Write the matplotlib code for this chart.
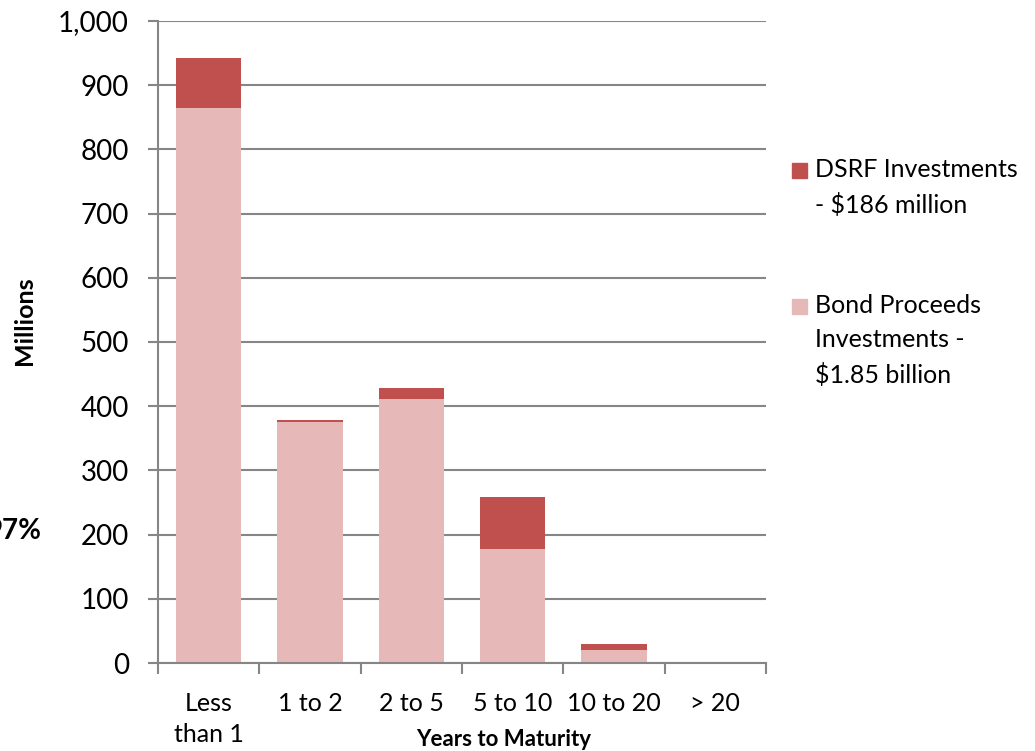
import numpy as np
import matplotlib.pyplot as plt
from matplotlib.patches import Rectangle
from matplotlib.ticker import FuncFormatter

# Investments by years to maturity, in millions
categories = ["Less\nthan 1", "1 to 2", "2 to 5", "5 to 10", "10 to 20", "> 20"]
bond_proceeds = [865, 376, 411, 178, 21, 0]
dsrf = [78, 3, 17, 80, 8, 0]

dsrf_label = "DSRF Investments\n- \\$186 million"
bond_label = "Bond Proceeds\nInvestments -\n\\$1.85 billion"

dsrf_color = "#C0504D"
bond_color = "#E6B9B8"
grid_color = "#868686"

plt.rcParams["font.family"] = ["Lato", "DejaVu Sans"]

fig = plt.figure(figsize=(10.35, 7.51), dpi=100)
ax = fig.add_axes([158 / 1035, 88 / 751, 608 / 1035, 642 / 751])

x = np.arange(len(categories))
width = 0.645

# Stacked bars
ax.bar(x, bond_proceeds, width, color=bond_color, zorder=2)
ax.bar(x, dsrf, width, bottom=bond_proceeds, color=dsrf_color, zorder=2)

# Axes styling
ax.set_xlim(-0.5, len(categories) - 0.5)
ax.set_ylim(0, 1000)
ax.set_yticks(np.arange(0, 1001, 100))
ax.yaxis.set_major_formatter(FuncFormatter(lambda v, p: f"{int(v):,}"))
ax.grid(axis="y", color=grid_color, linewidth=1.5, zorder=0)

ax.set_xticks(x)
ax.set_xticklabels(categories, fontsize=18, linespacing=1.4)
ax.set_xticks(np.arange(-0.5, len(categories)), minor=True)
ax.tick_params(axis="x", which="major", length=0, pad=21)
ax.tick_params(axis="x", which="minor", length=8, width=1.5, color=grid_color)
ax.tick_params(axis="y", length=7, width=1.5, color=grid_color, labelsize=20, pad=14)

for side in ["top", "right"]:
    ax.spines[side].set_visible(False)
for side in ["left", "bottom"]:
    ax.spines[side].set_color(grid_color)
    ax.spines[side].set_linewidth(1.5)

# Axis titles
fig.text(504 / 1035, 1 - 740 / 751, "Years to Maturity", fontsize=16,
         fontweight="bold", ha="center", va="center")
fig.text(25 / 1035, 1 - 321 / 751, "Millions", fontsize=18,
         fontweight="bold", ha="center", va="center", rotation=90)
fig.text(42 / 1035, 1 - 531 / 751, "97%", fontsize=20,
         fontweight="bold", ha="right", va="center")

# Legend drawn by hand so the swatch sits beside the first text line
entries = [(dsrf_color, dsrf_label, 163), (bond_color, bond_label, 299)]
for color, label, top in entries:
    fig.patches.append(Rectangle((792 / 1035, 1 - (top + 15) / 751),
                                 15 / 1035, 15 / 751,
                                 transform=fig.transFigure, color=color))
    fig.text(815 / 1035, 1 - (top - 5) / 751, label, fontsize=18,
             ha="left", va="top", linespacing=1.6)

fig.savefig("out.png", dpi=100)
